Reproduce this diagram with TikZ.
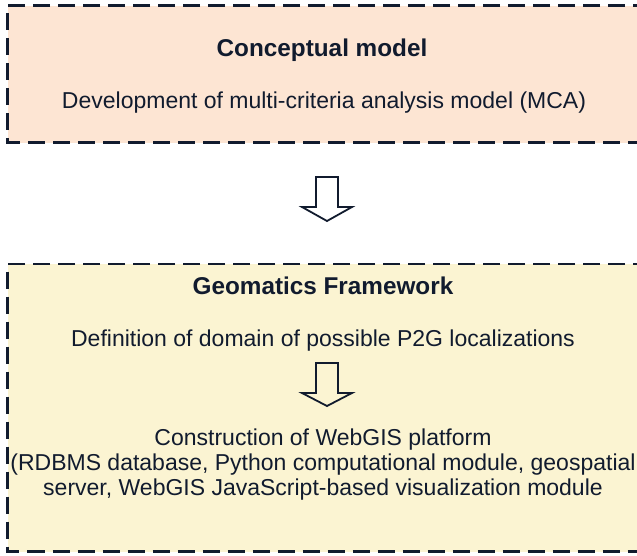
\documentclass[tikz,border=0pt]{standalone}
\usepackage{fontspec}
\setmainfont{Liberation Sans}
\definecolor{peach}{HTML}{FDE5D3}
\definecolor{cream}{HTML}{FBF4D2}
\definecolor{navy}{HTML}{111B2E}
\begin{document}
\begin{tikzpicture}[x=1pt,y=-1pt,
  dbox/.style={draw=navy, line width=2.7pt, dash pattern=on 17pt off 8pt},
  title/.style={font=\fontsize{24.3}{28}\selectfont\bfseries, text=navy, inner sep=0pt, anchor=base},
  body/.style={font=\fontsize{23}{25}\selectfont, text=navy, inner sep=0pt},
  barrow/.style={draw=navy, line width=1.8pt, line join=miter}
]
\useasboundingbox (0,0) rectangle (637,555);
% boxes
\path[fill=peach] (7.5,5.5) rectangle (650,142.5);
\draw[dbox] (650,5.5) -- (7.5,5.5) -- (7.5,142.5) -- (650,142.5);
\path[fill=cream] (7.5,264) rectangle (650,551.5);
\draw[dbox] (650,264) -- (7.5,264) -- (7.5,551.5) -- (650,551.5);
% texts
\node[title] (t1) at (322,56.5) {Conceptual model};
\node[body, anchor=base] (d1) at (324,108) {Development of multi-criteria analysis model (MCA)};
\node[title] (t2) at (323,294.5) {Geomatics Framework};
\node[body, anchor=base] (d2) at (323,346) {Definition of domain of possible P2G localizations};
\node[body, anchor=base] (c1) at (323,445) {Construction of WebGIS platform};
\node[body, anchor=base] (c2) at (323,470) {(RDBMS database, Python computational module, geospatial};
\node[body, anchor=base] (c3) at (323,495) {server, WebGIS JavaScript-based visualization module};
% block arrows
\coordinate (a1) at (327,177);
\draw[barrow, fill=white] ([xshift=-11pt]a1) -- ([xshift=11pt]a1) -- ([xshift=11pt,yshift=-30pt]a1)
  -- ([xshift=25pt,yshift=-30pt]a1) -- ([yshift=-44pt]a1) -- ([xshift=-25pt,yshift=-30pt]a1)
  -- ([xshift=-11pt,yshift=-30pt]a1) -- cycle;
\coordinate (a2) at (327,363);
\draw[barrow, fill=cream] ([xshift=-11pt]a2) -- ([xshift=11pt]a2) -- ([xshift=11pt,yshift=-30pt]a2)
  -- ([xshift=25pt,yshift=-30pt]a2) -- ([yshift=-43pt]a2) -- ([xshift=-25pt,yshift=-30pt]a2)
  -- ([xshift=-11pt,yshift=-30pt]a2) -- cycle;
\end{tikzpicture}
\end{document}
